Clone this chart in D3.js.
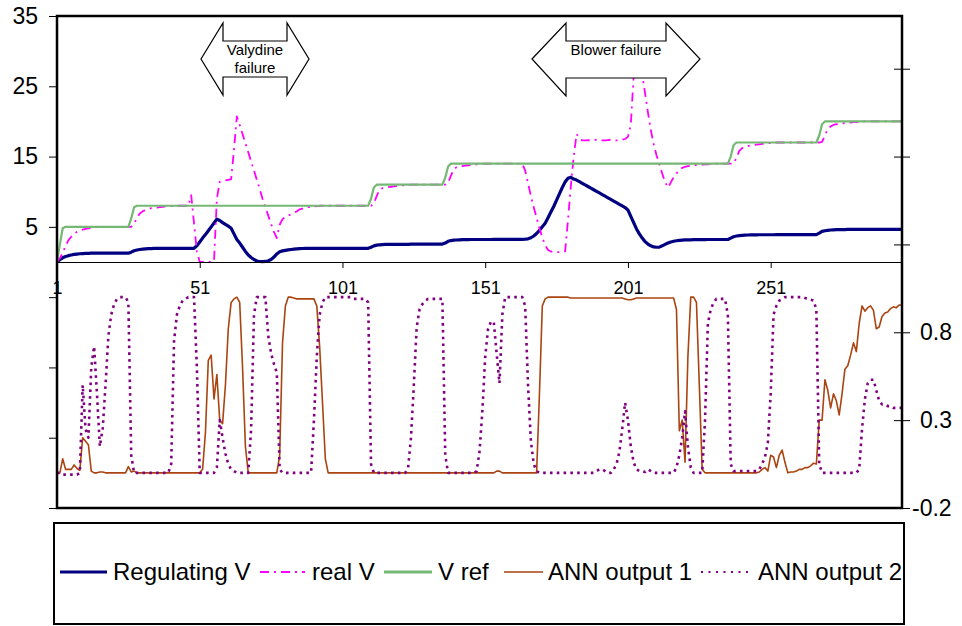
<!DOCTYPE html>
<html><head><meta charset="utf-8">
<script src="https://cdn.jsdelivr.net/npm/d3@7"></script>
<style>
html,body{margin:0;padding:0;background:#fff;}
svg{display:block;font-family:"Liberation Sans",Arial,sans-serif;}
</style></head><body>
<svg id="chart" width="962" height="626"></svg>
<script>
// ---------- DATA ----------
const categories = d3.range(1, 298);           // sample index 1..297
const xTickValues = [1, 51, 101, 151, 201, 251];
const leftTicks = [-35, -25, -15, -5, 5, 15, 25, 35];
const leftTickLabels = ["", "", "", "", "5", "15", "25", "35"];
const rightTicks = [-0.2, 0.3, 0.8, 1.3, 1.8, 2.3];
const rightTickLabels = ["-0.2", "0.3", "0.8", "", "", ""];
const seriesNames = ["Regulating V", "real V", "V ref", "ANN output 1", "ANN output 2"];
const annotations = [["Valydine", "failure"], ["Blower failure"]];

const regulatingV = [
0,0.35,0.6,0.78,0.9,1.0,1.08,1.13,1.17,1.2,
1.22,1.24,1.25,1.25,1.25,1.25,1.25,1.25,1.25,1.25,
1.25,1.25,1.25,1.25,1.25,1.25,1.4,1.6,1.7,1.78,
1.83,1.86,1.89,1.91,1.93,1.94,1.95,1.95,1.95,1.95,
1.95,1.95,1.95,1.95,1.95,1.95,1.95,1.95,1.95,2.3,
2.85,3.4,3.9,4.45,5.0,5.55,6.1,5.9,5.6,5.35,
5.1,4.8,4.0,3.2,2.7,2.1,1.5,1.0,0.65,0.35,
0.15,0.07,0.05,0.08,0.18,0.35,0.7,1.15,1.45,1.58,
1.66,1.72,1.78,1.83,1.87,1.9,1.92,1.94,1.95,1.95,
1.95,1.95,1.95,1.95,1.95,1.95,1.95,1.95,1.95,1.95,
1.95,1.95,1.95,1.95,1.95,1.95,1.95,1.95,1.95,1.95,
2.1,2.3,2.4,2.45,2.48,2.5,2.5,2.5,2.5,2.5,
2.5,2.5,2.52,2.52,2.53,2.53,2.54,2.54,2.55,2.55,
2.55,2.55,2.55,2.55,2.55,2.55,2.7,2.95,3.05,3.1,
3.13,3.15,3.17,3.18,3.19,3.2,3.2,3.2,3.2,3.2,
3.2,3.2,3.2,3.22,3.22,3.22,3.22,3.22,3.22,3.22,
3.22,3.22,3.22,3.22,3.25,3.3,3.45,3.7,4.05,4.5,
5.0,5.5,6.3,7.1,7.9,8.8,9.7,10.6,11.4,11.9,
12.05,11.8,11.65,11.43,11.2,10.97,10.74,10.51,10.28,10.05,
9.82,9.59,9.36,9.13,8.9,8.67,8.44,8.21,7.98,7.75,
7.4,6.5,5.6,4.7,4.0,3.4,2.9,2.55,2.3,2.15,
2.1,2.12,2.3,2.5,2.7,2.85,2.95,3.02,3.08,3.12,
3.14,3.15,3.16,3.17,3.18,3.18,3.19,3.19,3.2,3.2,
3.2,3.2,3.2,3.2,3.2,3.2,3.4,3.6,3.7,3.75,
3.8,3.82,3.84,3.85,3.86,3.87,3.88,3.88,3.88,3.88,
3.88,3.88,3.9,3.9,3.9,3.9,3.9,3.9,3.9,3.9,
3.9,3.9,3.9,3.9,3.9,3.9,3.9,4.1,4.35,4.45,
4.5,4.55,4.58,4.6,4.6,4.62,4.62,4.63,4.63,4.64,
4.64,4.65,4.65,4.65,4.65,4.65,4.65,4.65,4.65,4.65,
4.65,4.65,4.65,4.65,4.65,4.65,4.65];

const realV = [
0,0.5,1.3,2.3,3.1,3.6,4.0,4.3,4.5,4.6,
4.7,4.8,4.85,4.9,4.95,5,5,5,5,5,
5,5,5,5,5,5,5,5.4,6.3,6.9,
7.2,7.4,7.55,7.65,7.7,7.75,7.8,7.85,7.9,7.9,
7.95,8,8,8,8,8,8,9.5,5.5,1.5,
0,0,0,0,0,0.1,9.0,11.4,11.5,11.6,
11.7,11.8,16.0,20.7,19.5,18.2,16.9,15.6,14.3,13.0,
11.7,10.4,9.0,7.8,6.6,5.4,4.3,3.4,5.3,6.1,
6.4,6.6,6.8,7.0,7.2,7.5,7.6,7.7,7.8,7.85,
7.9,7.95,8,8,8,8,8,8,8,8,
8,8,8,8,8,8,8,8,8,8,
8,8.3,9.4,10.3,10.5,10.6,10.65,10.7,10.75,10.8,
10.85,10.9,10.9,10.95,11,11,11,11,11,11,
11,11,11,11,11,11,11,11.3,12.3,13.2,
13.5,13.6,13.65,13.7,13.75,13.8,13.85,13.9,13.9,13.95,
14,14,14,14,14,14,14,14,14,14,
14,14,14,14,13.0,11.2,9.4,7.8,6.3,4.8,
3.5,2.4,1.7,1.5,1.4,1.4,1.4,1.4,1.5,6.0,
10.8,15.0,18.2,17.6,17.3,17.3,17.35,17.3,17.3,17.4,
17.35,17.3,17.3,17.35,17.4,17.35,17.3,17.35,17.4,17.5,
17.8,19.5,26.5,28.0,28.0,26.7,24.0,21.3,18.8,16.8,
15.2,13.9,12.6,11.4,10.6,11.3,12.1,12.6,13.0,13.4,
13.55,13.65,13.7,13.75,13.8,13.8,13.85,13.9,13.9,13.95,
14,14,14,14,14,14,14,14,14.8,15.8,
16.2,16.4,16.5,16.6,16.65,16.7,16.75,16.8,16.85,16.9,
16.9,16.95,17,17,17,17,17,17,17,17,
17,17,17,17,17,17,17,17,17.1,18.0,
18.9,19.3,19.5,19.6,19.65,19.7,19.75,19.8,19.85,19.9,
19.9,19.95,20,20,20,20,20,20,20,20,
20,20,20,20,20,20,20];

const vRef = [
0,2.5,4.8,5,5,5,5,5,5,5,
5,5,5,5,5,5,5,5,5,5,
5,5,5,5,5,5,6.2,7.8,8,8,
8,8,8,8,8,8,8,8,8,8,
8,8,8,8,8,8,8,8,8,8,
8,8,8,8,8,8,8,8,8,8,
8,8,8,8,8,8,8,8,8,8,
8,8,8,8,8,8,8,8,8,8,
8,8,8,8,8,8,8,8,8,8,
8,8,8,8,8,8,8,8,8,8,
8,8,8,8,8,8,8,8,8,8,
9,10.6,11,11,11,11,11,11,11,11,
11,11,11,11,11,11,11,11,11,11,
11,11,11,11,11,11,12,13.6,14,14,
14,14,14,14,14,14,14,14,14,14,
14,14,14,14,14,14,14,14,14,14,
14,14,14,14,14,14,14,14,14,14,
14,14,14,14,14,14,14,14,14,14,
14,14,14,14,14,14,14,14,14,14,
14,14,14,14,14,14,14,14,14,14,
14,14,14,14,14,14,14,14,14,14,
14,14,14,14,14,14,14,14,14,14,
14,14,14,14,14,14,14,14,14,14,
14,14,14,14,14,14,15,16.6,17,17,
17,17,17,17,17,17,17,17,17,17,
17,17,17,17,17,17,17,17,17,17,
17,17,17,17,17,17,17,18,19.6,20,
20,20,20,20,20,20,20,20,20,20,
20,20,20,20,20,20,20,20,20,20,
20,20,20,20,20,20,20];

const annOutput1 = [
0,0,0.08,0.02,0.02,0.02,0.045,0.025,0.015,0.2,
0.18,0.16,0.01,0,0,0.005,0.005,0,0,0,
0,0,0,0,0,0.035,0.005,0.01,0,0,
0,0,0,0,0,0,0,0,0,0,
0,0,0,0,0,0,0,0,0,0,
0,0.02,0.23,0.64,0.67,0.42,0.56,0.3,0.28,0.5,
0.82,0.97,0.99,1.0,0.97,0.6,0.15,0,0,0,
0,0,0,0,0,0,0,0,0.1,0.74,
0.95,1.0,1.0,0.995,0.99,0.99,0.99,0.99,0.99,0.99,
0.99,0.95,0.72,0.4,0.08,0,0,0,0,0,
0,0,0,0,0,0,0,0,0,0,
0,0,0,0,0,0,0,0,0,0,
0,0,0,0,0,0,0,0,0,0,
0,0,0,0,0,0,0,0,0,0,
0,0,0,0,0,0,0,0,0,0,
0,0,0,0,0.01,0.01,0,0,0,0,
0,0,0,0,0,0,0,0,0,0.45,
0.95,0.99,1,1,1,1,1,1,1,1,
0.995,0.995,0.995,0.995,0.995,0.995,0.995,0.995,0.995,0.995,
0.995,0.995,0.995,0.995,0.995,0.995,0.995,0.995,0.995,0.99,
0.985,0.985,0.99,0.995,0.995,0.995,0.995,0.995,0.995,0.995,
0.995,0.995,0.995,0.995,0.995,0.995,0.995,0.93,0.24,0.3,
0.06,0.66,1.0,1.0,0.97,0.5,0.02,0,0,0,
0,0,0,0,0,0,0,0,0,0,
0,0,0,0,0,0,0.005,0.02,0.03,0.01,
0.1,0.09,0.03,0.1,0.13,0.06,0,0.005,0.005,0.01,
0.02,0.02,0.03,0.03,0.04,0.055,0.05,0.3,0.3,0.53,
0.47,0.37,0.45,0.41,0.33,0.45,0.59,0.61,0.67,0.74,
0.69,0.85,0.95,0.92,0.94,0.95,0.925,0.82,0.83,0.89,
0.91,0.915,0.935,0.945,0.94,0.955,0.955];

const annOutput2 = [
0,0,-0.01,-0.01,-0.01,-0.01,-0.01,-0.01,0,0.5,
0.25,0.2,0.6,0.72,0.45,0.15,0.25,0.5,0.78,0.9,
0.96,0.99,1,1,1,0.97,0.1,0,0,0,
0,0,0,0,0,0,0,0,0,0,
0.05,0.75,0.9,0.95,0.98,0.99,1,1,1,0.6,
0,0,0,0,0,0,0.03,0.3,0.2,0.11,
0.05,0.02,0.01,0,0,0,0,0,0.25,0.9,
1,1,1,1,0.78,0.68,0.62,0.57,0.02,0,
0,0,0,0,0,0,0,0,0,0,
0.3,0.66,0.9,0.97,1,1,1,1,1,1,
1,1,1,1,0.99,0.99,0.99,0.99,0.99,0.97,
0.05,0,0,0,0,0,0,0,0,0,
0,0,0,0.03,0.2,0.5,0.83,0.93,0.96,0.98,
0.99,0.99,0.99,0.99,0.99,0.99,0.1,0,0,0,
0,0,0,0,0,0,0,0.01,0.12,0.35,
0.66,0.82,0.86,0.86,0.68,0.51,0.9,1,1,1,
1,1,1,1,0.95,0.5,0.18,0.05,0.01,0,
0,0,0,0,0,0,0,0,0,0,
0,0,0,0,0,0,0,0,0,0.01,
0.02,0.02,0.01,0,0,0.02,0.05,0.12,0.25,0.4,
0.3,0.15,0.06,0.02,0.01,0.01,0.005,0.02,0.01,0,
0,0,0,0,0,0,0,0.03,0.1,0.2,
0.35,0.15,0.03,0,0,0,0,0.3,0.85,0.93,
0.97,0.99,0.99,0.99,0.99,0.9,0.05,0.01,0.01,0.01,
0.01,0.01,0.01,0.01,0.01,0.01,0.02,0.05,0.09,0.17,
0.45,0.9,0.95,0.98,0.99,1,1,1,1,1,
1,1,0.995,0.99,0.985,0.98,0.93,0.05,0,0,
0,0,0,0,0,0,0,0,0,0,
0,0.02,0.25,0.42,0.51,0.53,0.53,0.47,0.41,0.39,
0.39,0.38,0.38,0.37,0.37,0.37,0.37];

// ---------- LAYOUT ----------
const P = {left: 57, right: 902, top: 16, bottom: 508};
const svg = d3.select("#chart");
svg.append("rect").attr("width", 962).attr("height", 626).attr("fill", "#fff");

const x = d3.scalePoint().domain(categories).range([P.left, P.right]);
const yL = d3.scaleLinear().domain([-35, 35]).range([P.bottom, P.top]);
const yR = d3.scaleLinear().domain([-0.2, 2.6]).range([P.bottom, P.top]);

const styles = [
  {color: "#000080", width: 3.2, dash: null},
  {color: "#ff00ff", width: 1.8, dash: "9,5,2,5"},
  {color: "#74b874", width: 2.2, dash: null},
  {color: "#aa4410", width: 1.6, dash: null},
  {color: "#800080", width: 2.6, dash: "2.6,4.2"}
];
const series = [
  {values: regulatingV, y: yL},
  {values: realV, y: yL},
  {values: vRef, y: yL},
  {values: annOutput1, y: yR},
  {values: annOutput2, y: yR}
];

svg.append("clipPath").attr("id", "plotclip").append("rect")
  .attr("x", P.left).attr("y", P.top).attr("width", P.right - P.left).attr("height", P.bottom - P.top);

const gLines = svg.append("g").attr("clip-path", "url(#plotclip)");
series.forEach((s, k) => {
  const line = d3.line().x((d, i) => x(categories[i])).y(d => s.y(d));
  gLines.append("path").datum(s.values)
    .attr("d", line)
    .attr("fill", "none")
    .attr("stroke", styles[k].color)
    .attr("stroke-width", styles[k].width)
    .attr("stroke-linejoin", "round")
    .attr("stroke-dasharray", styles[k].dash);
});

// x axis at V = 0
const gx = svg.append("g").attr("transform", `translate(0,${yL(0)})`)
  .call(d3.axisBottom(x).tickValues(xTickValues).tickSize(6).tickSizeOuter(0).tickPadding(13));
gx.selectAll("text").attr("font-size", 18).attr("font-family", '"Liberation Sans",Arial,sans-serif').attr("fill", "#000");
gx.selectAll("line,path").attr("stroke", "#000");

// left axis
const gl = svg.append("g").attr("transform", `translate(${P.left},0)`)
  .call(d3.axisLeft(yL).tickValues(leftTicks)
    .tickFormat(d => leftTickLabels[leftTicks.indexOf(d)]).tickSize(8).tickPadding(11));
gl.select(".domain").remove();
gl.selectAll("text").attr("font-size", 23).attr("font-family", '"Liberation Sans",Arial,sans-serif').attr("fill", "#000");
gl.selectAll("line").attr("stroke", "#000");

// right axis (ticks cross the axis)
const gr = svg.append("g").attr("transform", `translate(${P.right},0)`)
  .call(d3.axisRight(yR).tickValues(rightTicks)
    .tickFormat(d => rightTickLabels[rightTicks.indexOf(d)]).tickSize(8).tickPadding(2));
gr.select(".domain").remove();
gr.selectAll("line").attr("x1", -8).attr("stroke", "#000");
gr.selectAll("text").attr("font-size", 23).attr("font-family", '"Liberation Sans",Arial,sans-serif').attr("fill", "#000")
  .attr("dx", d => d >= 0 ? 8 : 0);

// plot border
svg.append("rect").attr("x", P.left).attr("y", P.top)
  .attr("width", P.right - P.left).attr("height", P.bottom - P.top)
  .attr("fill", "none").attr("stroke", "#000").attr("stroke-width", 2.5);

// double arrow annotations
function doubleArrow(tipL, headL, headR, tipR, cy, headTop, headBot, bodyTop, bodyBot) {
  return [[tipL, cy], [headL, headTop], [headL, bodyTop], [headR, bodyTop], [headR, headTop],
          [tipR, cy], [headR, headBot], [headR, bodyBot], [headL, bodyBot], [headL, headBot]];
}
const arrows = [
  {pts: doubleArrow(201, 223, 287, 309, 59, 23, 95, 41, 77), cx: 255, lines: annotations[0], base: [55, 73]},
  {pts: doubleArrow(532, 566, 666, 700, 59, 23, 96, 41, 78), cx: 616, lines: annotations[1], base: [55]}
];
arrows.forEach(a => {
  svg.append("polygon").attr("points", a.pts.map(p => p.join(",")).join(" "))
    .attr("fill", "#fff").attr("stroke", "#000").attr("stroke-width", 1.2);
  a.lines.forEach((t, j) => {
    svg.append("text").attr("x", a.cx).attr("y", a.base[j]).attr("text-anchor", "middle")
      .attr("font-size", 15).attr("fill", "#000").text(t);
  });
});

// legend
svg.append("rect").attr("x", 54).attr("y", 523).attr("width", 850).attr("height", 101)
  .attr("fill", "#fff").attr("stroke", "#000").attr("stroke-width", 2);
const legendPos = [[60, 107, 113], [260, 305, 312], [384, 432, 438], [504, 543, 548], [701, 750, 758]];
seriesNames.forEach((name, k) => {
  const [x1, x2, tx] = legendPos[k];
  svg.append("line").attr("x1", x1).attr("x2", x2).attr("y1", 572).attr("y2", 572)
    .attr("stroke", styles[k].color).attr("stroke-width", k === 4 ? 2 : (k === 2 ? 3 : styles[k].width))
    .attr("stroke-dasharray", k === 4 ? "2,5.5" : styles[k].dash);
  svg.append("text").attr("x", tx).attr("y", 580).attr("font-size", 24).attr("fill", "#000").text(name);
});
</script>
</body></html>
